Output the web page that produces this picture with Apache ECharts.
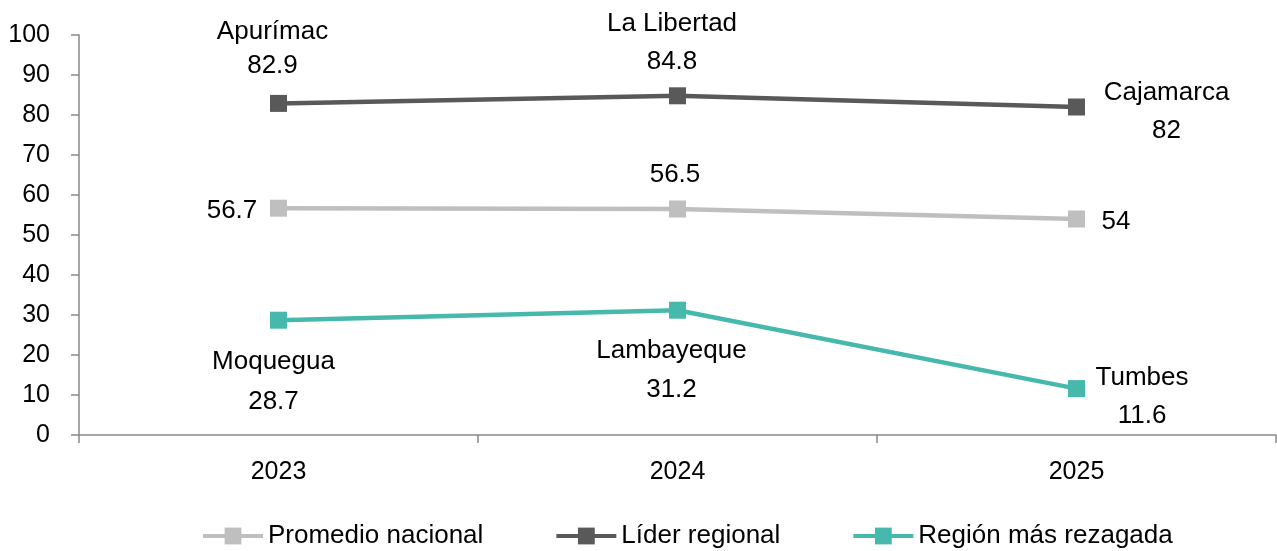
<!DOCTYPE html>
<html>
<head>
<meta charset="utf-8">
<script src="https://cdn.jsdelivr.net/npm/echarts@6/dist/echarts.min.js"></script>
<style>
html,body{margin:0;padding:0;background:#fff;}
#chart{width:1277px;height:551px;}
</style>
</head>
<body>
<div id="chart"></div>
<script>
// ---- data ----
var years = ['2023', '2024', '2025'];
var seriesNames = ['Promedio nacional', 'Líder regional', 'Región más rezagada'];
var promedioValues = [56.7, 56.5, 54];
var liderValues = [82.9, 84.8, 82];
var rezagadaValues = [28.7, 31.2, 11.6];
var liderRegions = ['Apurímac', 'La Libertad', 'Cajamarca'];
var rezagadaRegions = ['Moquegua', 'Lambayeque', 'Tumbes'];

// ---- label layout (style only) ----
var promedioLabelLayout = [
  {offset: [-46.5, 3]},
  {offset: [-2.5, -34]},
  {offset: [39.5, 3]}
];
var liderLabelLayout = [
  {offset: [-6, -55], lh: 34},
  {offset: [-5.5, -53], lh: 38},
  {offset: [90, 5], lh: 38}
];
var rezagadaLabelLayout = [
  {offset: [-5, 62], lh: 40},
  {offset: [-6, 60], lh: 39},
  {offset: [65.5, 8], lh: 38}
];

var FONT = 'Liberation Sans, Arial, sans-serif';
var FS = 25;
var LFS = 26;

function singleData(values, layout) {
  return values.map(function (v, i) {
    return {
      value: v,
      label: {
        show: true,
        position: 'inside',
        align: 'center',
        verticalAlign: 'middle',
        offset: layout[i].offset,
        formatter: String(v),
        color: '#000',
        fontSize: LFS,
        fontFamily: FONT
      }
    };
  });
}

function doubleData(values, names, layout) {
  return values.map(function (v, i) {
    return {
      value: v,
      label: {
        show: true,
        position: 'inside',
        align: 'center',
        verticalAlign: 'middle',
        offset: layout[i].offset,
        formatter: names[i] + '\n' + String(v),
        color: '#000',
        fontSize: LFS,
        fontFamily: FONT,
        lineHeight: layout[i].lh
      }
    };
  });
}

var colors = ['#BFBFBF', '#595959', '#47B8AC'];

function lineSeries(name, data, color) {
  return {
    name: name,
    type: 'line',
    data: data,
    symbol: 'rect',
    symbolSize: 17,
    lineStyle: {color: color, width: 4.5},
    itemStyle: {color: color},
    emphasis: {disabled: true},
    animation: false
  };
}

var chart = echarts.init(document.getElementById('chart'), null, {renderer: 'canvas'});
chart.setOption({
  animation: false,
  textStyle: {fontFamily: FONT},
  grid: {left: 79, right: 1, top: 35, bottom: 116, containLabel: false},
  legend: {
    data: seriesNames,
    left: 196,
    top: 518,
    itemWidth: 60,
    itemHeight: 21,
    itemGap: 71,
    lineStyle: {width: 4},
    textStyle: {color: '#000', fontSize: LFS, fontFamily: FONT}
  },
  xAxis: {
    type: 'category',
    data: years,
    boundaryGap: true,
    axisLine: {lineStyle: {color: '#898989', width: 1.5}},
    axisTick: {show: true, length: 8, lineStyle: {color: '#898989', width: 1.5}},
    axisLabel: {color: '#000', fontSize: FS, fontFamily: FONT, margin: 25}
  },
  yAxis: {
    type: 'value',
    min: 0,
    max: 100,
    interval: 10,
    splitLine: {show: false},
    axisLine: {show: true, lineStyle: {color: '#898989', width: 1.5}},
    axisTick: {show: true, length: 8, lineStyle: {color: '#898989', width: 1.5}},
    axisLabel: {color: '#000', fontSize: FS, fontFamily: FONT, margin: 29}
  },
  series: [
    lineSeries(seriesNames[0], singleData(promedioValues, promedioLabelLayout), colors[0]),
    lineSeries(seriesNames[1], doubleData(liderValues, liderRegions, liderLabelLayout), colors[1]),
    lineSeries(seriesNames[2], doubleData(rezagadaValues, rezagadaRegions, rezagadaLabelLayout), colors[2])
  ]
});
</script>
</body>
</html>
